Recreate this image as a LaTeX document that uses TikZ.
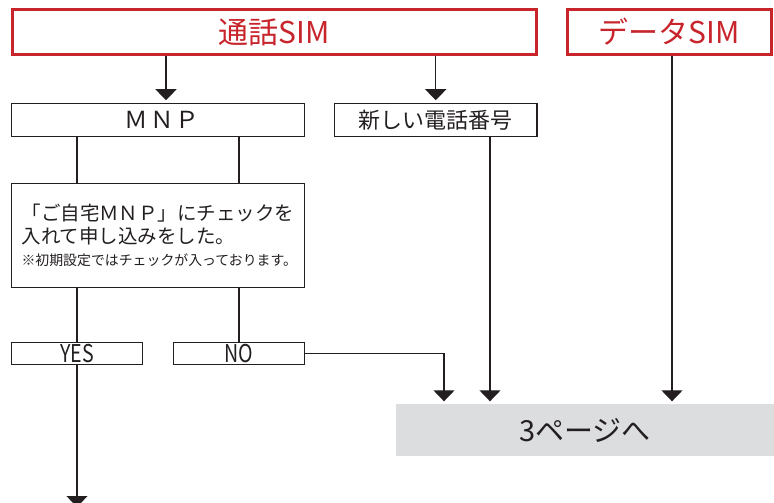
\documentclass[tikz,border=0pt]{standalone}
\usepackage{fontspec}
\setmainfont{Noto Sans CJK JP}
\usetikzlibrary{arrows.meta}
\definecolor{simred}{RGB}{200,36,44}
\definecolor{ink}{RGB}{35,31,32}
\definecolor{pagegray}{RGB}{220,221,222}
\tikzset{
  redbox/.style={draw=simred, line width=3pt, text=simred, inner sep=0pt,
    font=\fontsize{30pt}{36pt}\selectfont},
  blackbox/.style={draw=ink, line width=1.5pt, text=ink, inner sep=0pt},
  arr/.style={draw=ink, line width=1.3pt, -{Triangle[width=21pt,length=11pt]}, shorten >=2.5pt},
  link/.style={draw=ink, line width=1.3pt}
}
\begin{document}
\begin{tikzpicture}[x=1pt,y=-1pt]
\useasboundingbox (0,0) rectangle (774,503);
% boxes
\node[redbox, minimum width=524pt, minimum height=45pt] (tsuwa) at (274.5,32) {通話SIM};
\node[redbox, minimum width=204pt, minimum height=45pt] (data) at (669.5,32) {データSIM};
\node[blackbox, minimum width=293pt, minimum height=33pt,
  font=\fontsize{23.5pt}{26pt}\selectfont] (mnp) at (158,120) {\hspace{8pt}Ｍ\hspace{2pt}Ｎ\hspace{2pt}Ｐ};
\node[blackbox, minimum width=202.5pt, minimum height=33pt,
  font=\fontsize{22pt}{26pt}\selectfont] (new) at (435.75,120) {新しい電話番号};
\node[blackbox, minimum width=293pt, minimum height=104pt, inner xsep=10pt,
  text width=273pt, align=left,
  font=\fontsize{19.5pt}{23pt}\selectfont] (check) at (158,235.5)
  {「ご自宅ＭＮＰ」にチェックを\\入れて申し込みをした。\\[-1pt]{\fontsize{13.9pt}{16pt}\selectfont ※初期設定ではチェックが入っております。}};
\node[blackbox, minimum width=131pt, minimum height=22pt,
  font=\fontsize{24.5pt}{24pt}\selectfont] (yes) at (77,353.5) {\scalebox{0.8}[1]{YES}};
\node[blackbox, minimum width=131pt, minimum height=22pt,
  font=\fontsize{24.5pt}{24pt}\selectfont] (no) at (239,353.5) {\scalebox{0.8}[1]{NO}};
\node[fill=pagegray, text=ink, inner sep=0pt, minimum width=378pt, minimum height=52pt,
  font=\fontsize{29pt}{34pt}\selectfont] (page3) at (585,430) {3ページへ};
% helper coordinates for connector columns
\coordinate (xa) at (166,0);
\coordinate (xb) at (444,0);
\coordinate (xc) at (490,0);
\coordinate (xd) at (672,0);
\coordinate (yend) at (77,507);
% connectors
\draw[arr] (tsuwa.south -| xa) -- (mnp.north -| xa);
\draw[arr] (tsuwa.south -| new.north) -- (new.north);
\draw[link] (mnp.south -| yes.north) -- (check.north -| yes.north);
\draw[link] (mnp.south -| no.north) -- (check.north -| no.north);
\draw[link] (check.south -| yes.north) -- (yes.north);
\draw[link] (check.south -| no.north) -- (no.north);
\draw[arr, shorten >=0pt] (yes.south) -- (yend);
\draw[arr] (no.east) -| (page3.north -| xb);
\draw[arr] (new.south -| xc) -- (page3.north -| xc);
\draw[arr] (data.south -| xd) -- (page3.north -| xd);
\end{tikzpicture}
\end{document}
